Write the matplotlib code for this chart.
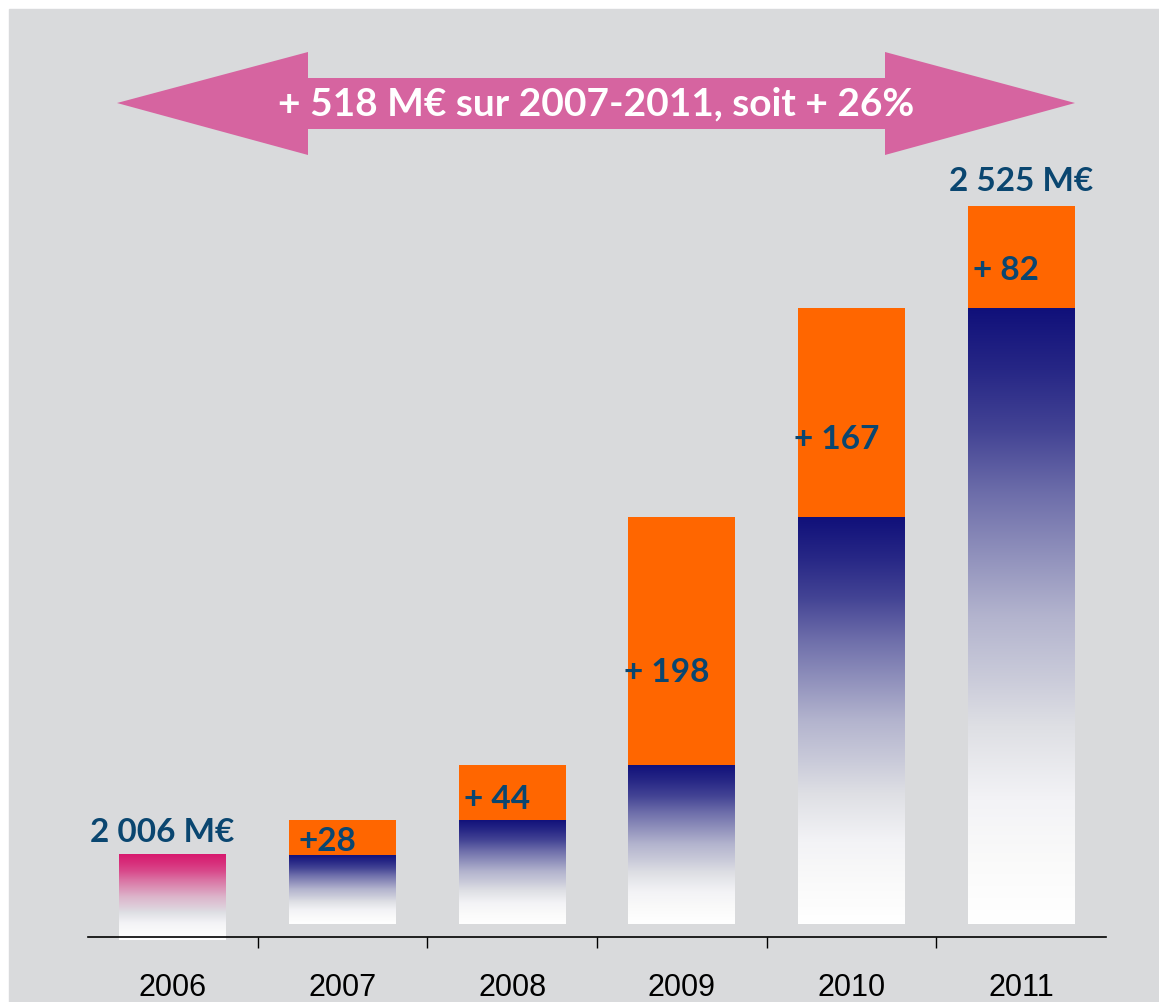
import numpy as np
import matplotlib
matplotlib.use('Agg')
import matplotlib.pyplot as plt
from matplotlib.colors import LinearSegmentedColormap, to_rgb
from matplotlib.patches import Polygon, Rectangle

# data
years = ['2006', '2007', '2008', '2009', '2010', '2011']
total_2006 = 2006
increments = [28, 44, 198, 167, 82]
increment_labels = ['+28', '+ 44', '+ 198', '+ 167', '+ 82']
total_labels = ['2 006 M€', '2 525 M€']
arrow_text = '+ 518 M€ sur 2007-2011, soit + 26%'

totals = total_2006 + np.cumsum(increments)
previous = np.concatenate([[total_2006], totals[:-1]])

W, H = 1159, 1002
navy = '#10107a'
pink = '#d7196e'
orange = '#ff6600'
label_col = '#0a4670'
bold_font = 'Lato'
bar_w = 0.63

# bar colour fades to a light grey, then white, from top (0) to bottom (1)
fade_pos = [0, 0.1, 0.2, 0.3, 0.4, 0.5, 0.6, 0.68]
fade_mix = [0, 0.11, 0.25, 0.45, 0.62, 0.79, 0.9, 1.0]
fade_grey = np.array(to_rgb('#dedfe4'))

fig = plt.figure(figsize=(W / 100, H / 100), dpi=100)
fig.patch.set_facecolor('white')
fig.add_artist(Rectangle((9 / W, 0), 1, 1 - 9 / H, transform=fig.transFigure,
                         color='#d9dadc', zorder=0))

ax = fig.add_axes([88 / W, 65 / H, 1018 / W, 897 / H])
ax.set_facecolor('none')

y_min = 1940
y_max = y_min + 897 / 1.25
base = 1950


def grad_bar(x, bottom, top, color):
    c = np.array(to_rgb(color))
    stops = [(p, tuple(c + (fade_grey - c) * m)) for p, m in zip(fade_pos, fade_mix)]
    stops += [(0.8, '#f3f3f6'), (0.9, '#fafafa'), (1.0, 'white')]
    cmap = LinearSegmentedColormap.from_list('g', stops)
    t = np.linspace(0, 1, 256).reshape(-1, 1)
    im = ax.imshow(t, extent=[x - bar_w / 2, x + bar_w / 2, bottom, top],
                   origin='upper', cmap=cmap, vmin=0, vmax=1, aspect='auto',
                   interpolation='bilinear', zorder=2)
    im.set_clip_on(False)


# 2006 starting bar
grad_bar(0, y_min - 2.4, total_2006, pink)

# yearly bars: previous total (gradient) + increment (orange)
for i in range(1, 6):
    grad_bar(i, base, previous[i - 1], navy)
ax.bar(range(1, 6), increments, bottom=previous, width=bar_w, color=orange, zorder=3)

for i in range(1, 6):
    ax.text(i - 0.09, previous[i - 1] + 0.37 * increments[i - 1], increment_labels[i - 1],
            ha='center', va='center', fontsize=24, fontweight='bold',
            family=bold_font, color=label_col, zorder=4)

ax.text(-0.06, total_2006 + 6, total_labels[0], ha='center', va='bottom', fontsize=24,
        fontweight='bold', family=bold_font, color=label_col)
ax.text(5, totals[-1] + 8, total_labels[1], ha='center', va='bottom', fontsize=24,
        fontweight='bold', family=bold_font, color=label_col)

ax.set_xlim(-0.5, 5.5)
ax.set_ylim(y_min, y_max)
ax.set_yticks([])
ax.set_xticks(range(6), years)
ax.set_xticks(np.arange(0.5, 5.5, 1), minor=True)
ax.tick_params(axis='x', which='major', length=0, pad=26, labelsize=22)
ax.tick_params(axis='x', which='minor', length=8, width=1, direction='out', color='black')
for lab in ax.get_xticklabels():
    lab.set_family('Liberation Sans')
for s in ['top', 'left', 'right']:
    ax.spines[s].set_visible(False)
ax.spines['bottom'].set_linewidth(1.2)

# big double arrow at the top
arrow_px = [(117, 103), (308, 52), (308, 78), (885, 78), (885, 52), (1075, 103),
            (885, 155), (885, 129), (308, 129), (308, 155)]
arrow_pts = [(px / W, 1 - py / H) for px, py in arrow_px]
fig.add_artist(Polygon(arrow_pts, closed=True, transform=fig.transFigure,
                       facecolor='#d664a0', edgecolor='none', zorder=1))
fig.text(596 / W, 1 - 104 / H, arrow_text, ha='center', va='center', fontsize=28,
         fontweight='bold', family=bold_font, color='white', zorder=2)

fig.savefig('out.png', dpi=100)
